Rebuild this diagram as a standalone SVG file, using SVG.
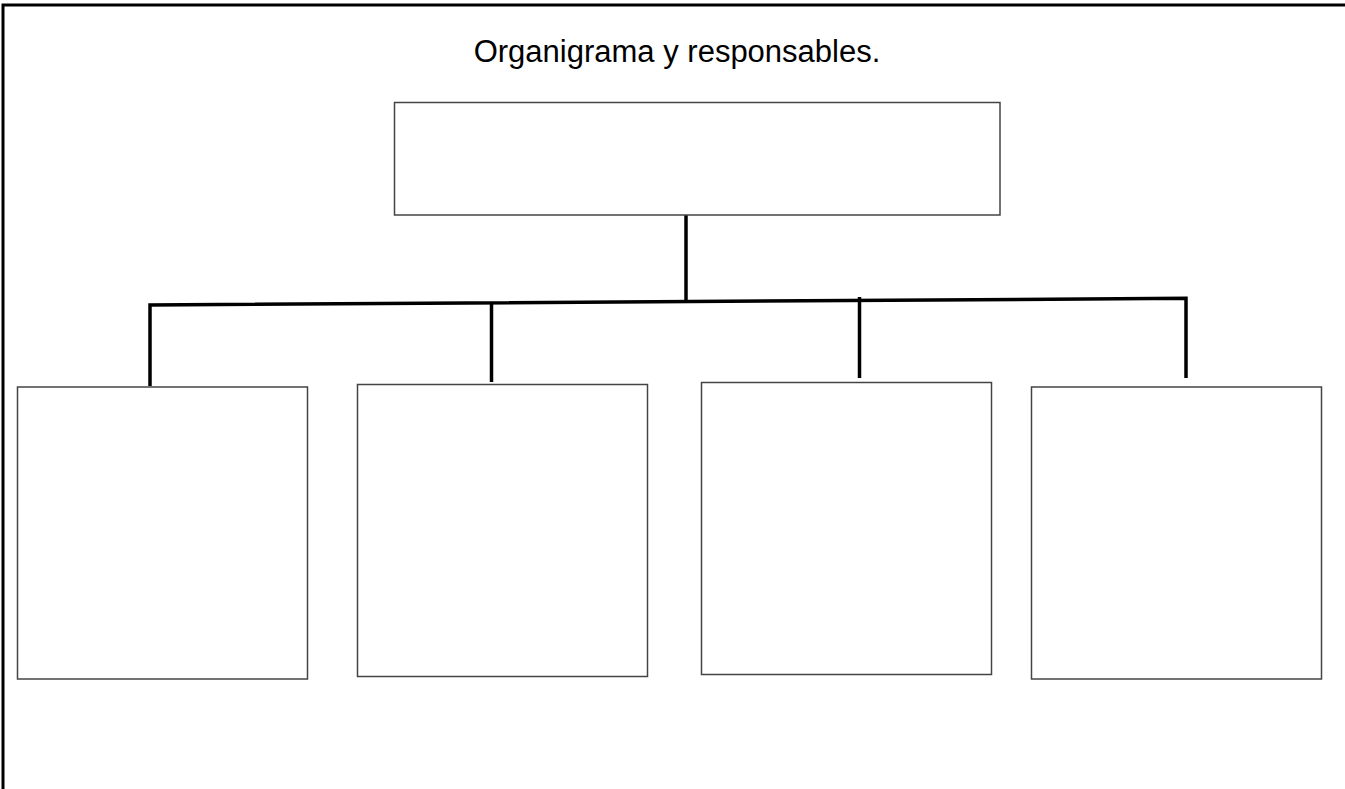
<svg xmlns="http://www.w3.org/2000/svg" width="1345" height="789" viewBox="0 0 1345 789">
<style>
.box{fill:#fff;stroke:#444;stroke-width:1.5}
.conn{fill:none;stroke:#000;stroke-width:3.5}
.title{font-family:"Liberation Sans",Arial,sans-serif;font-size:31px;fill:#000}
</style>
<rect width="1345" height="789" fill="#fff"/>
<path d="M3 789 V5 H1345" fill="none" stroke="#000" stroke-width="3"/>
<text class="title" x="677" y="61.5" text-anchor="middle">Organigrama y responsables.</text>
<g id="connectors">
<path class="conn" d="M686 215 V300.5"/>
<path class="conn" d="M150 386 V305 L1186 298.3 V378"/>
<path class="conn" d="M491.5 303 V382"/>
<path class="conn" d="M859.5 297 V378"/>
</g>
<g id="node-top"><rect class="box" x="394.5" y="102.5" width="605.5" height="112.5"/></g>
<g id="node-1"><rect class="box" x="17.5" y="387" width="290" height="292"/></g>
<g id="node-2"><rect class="box" x="357.5" y="384.5" width="290" height="292"/></g>
<g id="node-3"><rect class="box" x="701.5" y="382.5" width="290" height="292"/></g>
<g id="node-4"><rect class="box" x="1031.5" y="387" width="290" height="292"/></g>
</svg>
